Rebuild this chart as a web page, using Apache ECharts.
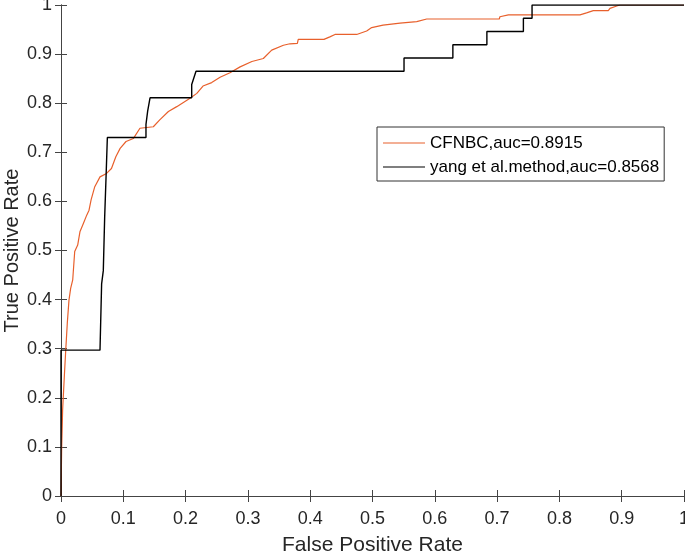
<!DOCTYPE html>
<html>
<head>
<meta charset="utf-8">
<script src="https://cdn.jsdelivr.net/npm/echarts@6/dist/echarts.min.js"></script>
<style>html,body{margin:0;padding:0;background:#fff}#c{width:685px;height:554px}</style>
</head>
<body>
<div id="c"></div>
<script>
const seriesNames = ['CFNBC,auc=0.8915', 'yang et al.method,auc=0.8568'];
const xTicks = [0, 0.1, 0.2, 0.3, 0.4, 0.5, 0.6, 0.7, 0.8, 0.9, 1];
const yTicks = [0, 0.1, 0.2, 0.3, 0.4, 0.5, 0.6, 0.7, 0.8, 0.9, 1];

// CFNBC ROC points [FPR, TPR]
const cfnbcFPR = [0, 0.001, 0.0026, 0.0056, 0.0076, 0.0101, 0.0128, 0.0155, 0.0188, 0.022, 0.0268, 0.0304, 0.0359, 0.0413, 0.045, 0.0483,
  0.0542, 0.0626, 0.0731, 0.081, 0.0880, 0.0949, 0.1044, 0.1161, 0.1267, 0.1482, 0.1585, 0.1724, 0.1858, 0.2071, 0.218, 0.2279,
  0.2419, 0.2553, 0.2712, 0.2875, 0.3064, 0.3248, 0.3382, 0.357, 0.3675, 0.3794, 0.3808, 0.4221, 0.4315, 0.4398, 0.4746,
  0.4906, 0.4987, 0.5169, 0.5442, 0.571, 0.587, 0.7035, 0.7045, 0.7181, 0.833, 0.8435, 0.8544, 0.8785, 0.8812, 0.8921, 0.8971, 1];
const cfnbcTPR = [0, 0.094, 0.175, 0.25, 0.297, 0.352, 0.399, 0.423, 0.44, 0.498, 0.511, 0.538, 0.555, 0.572, 0.582, 0.603,
  0.630, 0.650, 0.657, 0.667, 0.691, 0.708, 0.722, 0.728, 0.749, 0.752, 0.766, 0.783, 0.793, 0.810, 0.820, 0.835,
  0.842, 0.853, 0.862, 0.874, 0.885, 0.891, 0.908, 0.918, 0.921, 0.922, 0.930, 0.930, 0.935, 0.940, 0.940,
  0.947, 0.954, 0.959, 0.963, 0.966, 0.9715, 0.9715, 0.976, 0.980, 0.980, 0.984, 0.9885, 0.9885, 0.993, 0.998, 1, 1];

// yang et al. ROC points [FPR, TPR]
const yangFPR = [0, 0, 0.0626, 0.0652, 0.0679, 0.0701, 0.0723, 0.0744, 0.1364, 0.1364, 0.1391, 0.1429, 0.2098, 0.2098, 0.213, 0.2167,
  0.5506, 0.5506, 0.629, 0.629, 0.6836, 0.6836, 0.7422, 0.7422, 0.7561, 0.7561, 1];
const yangTPR = [0, 0.297, 0.297, 0.432, 0.459, 0.568, 0.649, 0.730, 0.730, 0.757, 0.784, 0.811, 0.811, 0.838, 0.838, 0.865,
  0.865, 0.892, 0.892, 0.919, 0.919, 0.946, 0.946, 0.973, 0.973, 1, 1];

const zip = (a, b) => a.map((v, i) => [v, b[i]]);
const axisCol = '#444';
const labelCol = '#262626';
const font = 'Liberation Sans, Arial, sans-serif';
const fmt = ticks => v => String(ticks.find(t => Math.abs(t - v) < 1e-9) ?? v);

const chart = echarts.init(document.getElementById('c'), null, {renderer: 'canvas'});
const baseAxis = {
  type: 'value', min: 0, max: 1, interval: 0.1,
  axisLine: {show: true, lineStyle: {color: axisCol, width: 1}},
  axisTick: {show: true, inside: true, length: 6, lineStyle: {color: axisCol}},
  splitLine: {show: false}
};
chart.setOption({
  animation: false,
  backgroundColor: '#fff',
  grid: {left: 61, right: 1, top: 5, bottom: 58, containLabel: false, outerBoundsMode: 'none'},
  legend: {
    orient: 'vertical', left: 377, top: 127,
    data: seriesNames.map(n => ({name: n, icon: 'rect'})),
    backgroundColor: '#fff', borderColor: '#333', borderWidth: 1,
    padding: [6, 5, 4, 6], itemWidth: 42, itemHeight: 1, itemGap: 4,
    textStyle: {fontSize: 17, lineHeight: 20, color: '#000', fontFamily: font}
  },
  xAxis: [
    Object.assign({}, baseAxis, {
      position: 'bottom',
      name: 'False Positive Rate', nameLocation: 'middle', nameGap: 39, nameMoveOverlap: false,
      nameTextStyle: {fontSize: 21, color: labelCol, fontFamily: font},
      axisLabel: {fontSize: 18, color: labelCol, margin: 14, fontFamily: font, formatter: fmt(xTicks)}
    }),
    Object.assign({}, baseAxis, {position: 'top', axisLabel: {show: false}})
  ],
  yAxis: [
    Object.assign({}, baseAxis, {
      position: 'left',
      name: 'True Positive Rate', nameLocation: 'middle', nameGap: 39, nameMoveOverlap: false,
      nameTextStyle: {fontSize: 20, color: labelCol, fontFamily: font},
      axisLabel: {fontSize: 18, color: labelCol, margin: 9, fontFamily: font, formatter: fmt(yTicks)}
    }),
    Object.assign({}, baseAxis, {position: 'right', axisLabel: {show: false}})
  ],
  series: [
    {name: seriesNames[0], type: 'line', data: zip(cfnbcFPR, cfnbcTPR), symbol: 'none',
      lineStyle: {color: '#e8602c', width: 1.2}, itemStyle: {color: '#e8602c'}, z: 3},
    {name: seriesNames[1], type: 'line', data: zip(yangFPR, yangTPR), symbol: 'none',
      lineStyle: {color: '#000', width: 1.4}, itemStyle: {color: '#000'}, z: 4}
  ]
});
</script>
</body>
</html>
